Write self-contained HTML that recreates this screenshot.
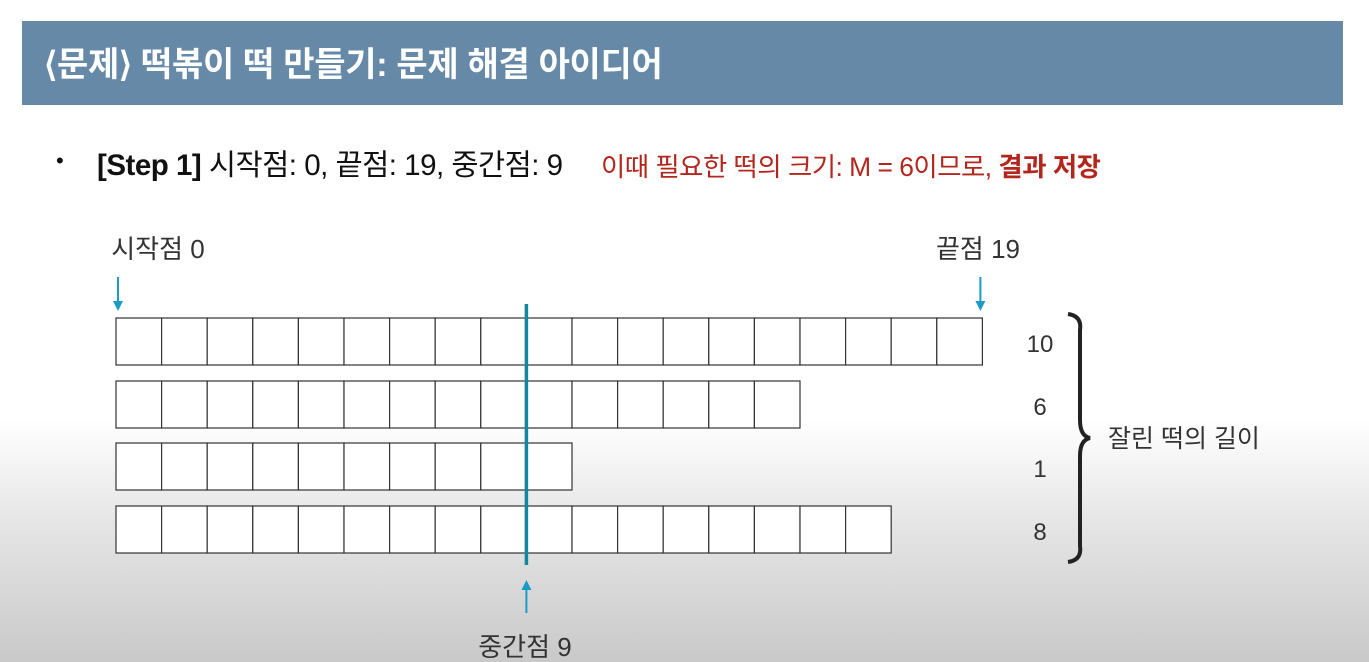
<!DOCTYPE html>
<html><head><meta charset="utf-8"><style>
body{margin:0;width:1369px;height:662px;overflow:hidden;font-family:"Liberation Sans","Noto Sans CJK KR",sans-serif;background:linear-gradient(#fff 0,#fff 420px,#e6e6e6 520px,#c9c9c9 662px);position:relative}
.hdr{position:absolute;left:22px;top:21px;width:1321px;height:84px;background:#6689a8}
.hdr span{position:absolute;left:22px;top:16px;color:#fff;font-size:34px;font-weight:bold;letter-spacing:-0.3px}
.step{position:absolute;left:56px;top:142px;font-size:29.5px;color:#111;white-space:nowrap;letter-spacing:-0.5px}
.step .b{position:absolute;left:0;top:6px;font-size:22px}
.step .m{position:absolute;left:41px;top:0}
.step .r{color:#b3261e;font-size:26.4px;position:absolute;left:545px;top:3px}
</style></head><body>
<div class="hdr"><span>⟨문제⟩ 떡볶이 떡 만들기: 문제 해결 아이디어</span></div>
<div class="step"><span class="b">•</span><span class="m"><b>[Step 1]</b> 시작점: 0, 끝점: 19, 중간점: 9</span><span class="r">이때 필요한 떡의 크기: M = 6이므로, <b>결과 저장</b></span></div>
<svg id="chart" width="1369" height="662" style="position:absolute;left:0;top:0"></svg>
<script>
const lengths=[19,15,10,17];
const remainders=[10,6,1,8];
const startLabel="시작점 0", endLabel="끝점 19", midLabel="중간점 9";
const cutHeight=9;
const svg=document.getElementById('chart');
const NS='http://www.w3.org/2000/svg';
const x0=116,cw=45.6,rowY=[318,381,443,506],ch=47;
const x=v=>x0+v*cw;
function mk(t,a){const e=document.createElementNS(NS,t);for(const k in a)e.setAttribute(k,a[k]);svg.appendChild(e);return e;}
lengths.forEach((L,r)=>{
  for(let i=0;i<L;i++){
    const c=mk('rect',{x:x(i),y:rowY[r],width:cw,height:ch,fill:'#fff',stroke:'#333','stroke-width':1.2});
    
    
  }
  const t=mk('text',{x:1040,y:rowY[r]+34,'font-size':24,'text-anchor':'middle',fill:'#333'});
  t.textContent=remainders[r];
  
  
});
function txt(s,xx,yy,name,anchor,fs){const t=mk('text',{x:xx,y:yy,'font-size':fs||26,fill:'#333','text-anchor':anchor||'middle'});t.textContent=s;}
txt(startLabel,158,258,'start-label');
txt(endLabel,978,258,'end-label');
txt(midLabel,525,656,'mid-label');
txt('잘린 떡의 길이',1108,447,'brace-label','start',25);
const blue='#1a9cc4';
function arrowDown(xx){mk('line',{x1:xx,y1:277,x2:xx,y2:303,stroke:blue,'stroke-width':2});mk('path',{d:`M${xx-5} 301 L${xx+5} 301 L${xx} 311Z`,fill:blue});}
arrowDown(x(0)+2);arrowDown(x(lengths[0])-2);
const mx=x(cutHeight);
const ml=mk('line',{x1:mx,y1:304,x2:mx,y2:565,stroke:'#17859f','stroke-width':3.5});

mk('line',{x1:mx,y1:588,x2:mx,y2:613,stroke:blue,'stroke-width':2});
mk('path',{d:`M${mx-5} 590 L${mx+5} 590 L${mx} 580Z`,fill:blue});
const br=mk('path',{d:'M1068 314 Q1082 316 1080 330 L1080 420 Q1080 436 1090 438 Q1080 440 1080 456 L1080 546 Q1082 560 1068 562',fill:'none',stroke:'#222','stroke-width':4});

</script>
</body></html>
